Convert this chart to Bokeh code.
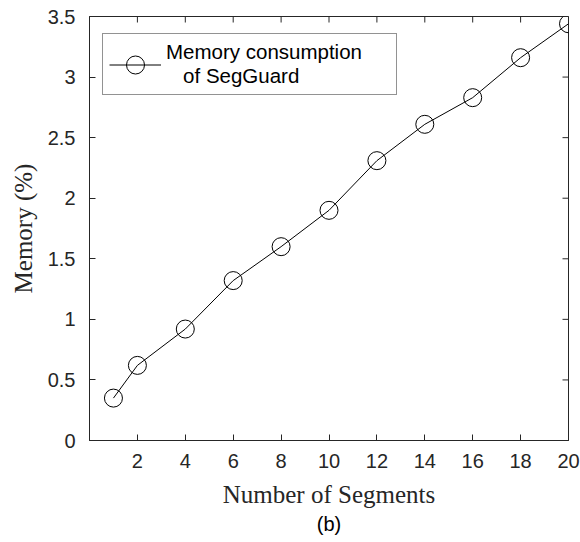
import math

from bokeh.plotting import figure
from bokeh.models import Range1d, FixedTicker, Title, Legend, LegendItem
from bokeh.embed import file_html
from bokeh.resources import INLINE

# Memory consumption of SegGuard vs. number of segments
segments = [1, 2, 4, 6, 8, 10, 12, 14, 16, 18, 20]
memory_pct = [0.35, 0.62, 0.92, 1.32, 1.60, 1.90, 2.31, 2.61, 2.83, 3.16, 3.44]

x_ticks = [2, 4, 6, 8, 10, 12, 14, 16, 18, 20]
y_ticks = [0, 0.5, 1, 1.5, 2, 2.5, 3, 3.5]
y_tick_labels = ["0", "0.5", "1", "1.5", "2", "2.5", "3", "3.5"]

AX = "#262626"
SANS = "Liberation Sans"
SERIF = "Liberation Serif"

x_range = Range1d(0, 20)
y_range = Range1d(0, 3.5)

p = figure(width=580, height=542, output_backend="svg", toolbar_location=None,
           x_range=x_range, y_range=y_range,
           min_border_left=89, min_border_right=12, min_border_top=16,
           min_border_bottom=102)
p.grid.visible = False
p.outline_line_color = AX
p.outline_line_width = 1
p.background_fill_color = "white"
p.border_fill_color = "white"

line = p.line(segments, memory_pct, line_color="black", line_width=1)
marks = p.scatter(segments, memory_pct, marker="circle", size=18,
                  fill_alpha=0, line_color="black", line_width=1)

xax = p.xaxis[0]
yax = p.yaxis[0]
for ax, ticks in ((xax, x_ticks), (yax, y_ticks)):
    ax.ticker = FixedTicker(ticks=ticks)
    ax.axis_line_color = AX
    ax.major_tick_line_color = AX
    ax.major_tick_in = 6
    ax.major_tick_out = 0
    ax.minor_tick_line_color = None
    ax.major_label_text_color = AX
    ax.major_label_text_font = SANS
    ax.major_label_text_font_size = "20px"
    ax.axis_label_text_font = SERIF
    ax.axis_label_text_font_size = "25px"
    ax.axis_label_text_font_style = "normal"
    ax.axis_label_text_color = AX

xax.major_label_standoff = 13
yax.major_label_standoff = 14
yax.major_label_overrides = {t: s for t, s in zip(y_ticks, y_tick_labels)}
xax.axis_label = "Number of Segments"
yax.axis_label = "Memory (%)"
xax.axis_label_standoff = 10
yax.axis_label_standoff = 8

# inward tick marks mirrored on the top and right edges of the box
p.scatter(x_ticks, [y_range.end] * len(x_ticks), marker="dash", size=12,
          angle=math.pi / 2, line_color=AX, line_width=1)
p.scatter([x_range.end] * len(y_ticks), y_ticks, marker="dash", size=12,
          angle=0, line_color=AX, line_width=1)

p.add_layout(Title(text="(b)", align="center", text_font=SANS,
                   text_font_size="20px", text_font_style="normal",
                   text_color="black", standoff=0), "below")

legend = Legend(items=[LegendItem(label="Memory consumption\n   of SegGuard",
                                  renderers=[line, marks])],
                location=(13, 345), margin=0, padding=6,
                glyph_width=52, glyph_height=45, label_standoff=5,
                label_width=224,
                label_text_font=SANS, label_text_font_size="20.5px",
                label_text_color="black",
                border_line_color=AX, border_line_width=1,
                background_fill_alpha=1)
p.add_layout(legend)

open("out.html", "w").write(file_html(p, INLINE))
